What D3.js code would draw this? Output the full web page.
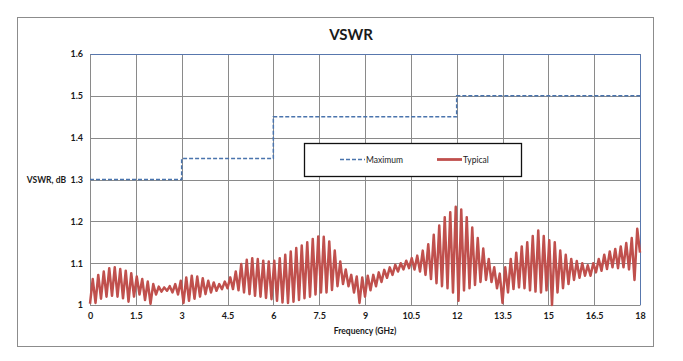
<!DOCTYPE html>
<html>
<head>
<meta charset="utf-8">
<script src="https://cdn.jsdelivr.net/npm/d3@7"></script>
<style>
body { margin: 0; background: #fff; }
text { font-family: Lato, "Open Sans", sans-serif; fill: #1a1a1a; }
</style>
</head>
<body>
<div class="main"></div>
<script>
// chart config
var W = 683, H = 361;
var margin = {top: 54, right: 43, bottom: 56, left: 90};
var width = 640 - margin.left;
var height = 305 - margin.top;

// data
var xTicks = [0, 1.5, 3, 4.5, 6, 7.5, 9, 10.5, 12, 13.5, 15, 16.5, 18];
var yTicks = [1, 1.1, 1.2, 1.3, 1.4, 1.5, 1.6];
// Maximum spec, step value starting at each break frequency
var maxFreq = [0, 3, 6, 12, 18];
var maxVswr = [1.3, 1.35, 1.45, 1.5, 1.5];
// Typical, sampled every 0.09 GHz: troughs at even samples, peaks at odd samples
var sampleStep = 0.09;
var typicalTroughs = [
	1.003, 1.005, 1.015, 1.02, 1.022, 1.02, 1.016, 1.008, 1.02, 1.025,
	1.012, 1.003, 1.025, 1.032, 1.034, 1.03, 1.025, 1.005, 1.01, 1.015,
	1.02, 1.026, 1.03, 1.034, 1.038, 1.04, 1.038, 1.035, 1.03, 1.026,
	1.022, 1.02, 1.017, 1.014, 1.01, 1.006, 1.005, 1.008, 1.012, 1.016,
	1.02, 1.025, 1.03, 1.03, 1.036, 1.045, 1.05, 1.045, 1.03, 1.005,
	1.02, 1.035, 1.045, 1.055, 1.065, 1.072, 1.08, 1.085, 1.088, 1.085,
	1.08, 1.072, 1.062, 1.052, 1.045, 1.04, 1.03, 1.01, 1.035, 1.04,
	1.048, 1.055, 1.06, 1.055, 1.04, 1.005, 1.03, 1.038, 1.042, 1.04,
	1.035, 1.032, 1.03, 1.035, 1.0, 1.03, 1.04, 1.05, 1.06, 1.065,
	1.07, 1.07, 1.078, 1.082, 1.086, 1.09, 1.088, 1.09, 1.085, 1.06, 1.125
];
var typicalPeaks = [
	1.062, 1.072, 1.08, 1.088, 1.09, 1.086, 1.082, 1.076, 1.068, 1.062,
	1.056, 1.05, 1.044, 1.042, 1.045, 1.05, 1.058, 1.066, 1.07, 1.068,
	1.064, 1.058, 1.054, 1.05, 1.056, 1.066, 1.08, 1.098, 1.108, 1.112,
	1.11, 1.106, 1.104, 1.106, 1.112, 1.12, 1.128, 1.136, 1.142, 1.15,
	1.158, 1.164, 1.163, 1.152, 1.13, 1.104, 1.085, 1.072, 1.068, 1.066,
	1.07, 1.072, 1.078, 1.084, 1.09, 1.096, 1.1, 1.106, 1.112, 1.118,
	1.13, 1.145, 1.168, 1.19, 1.21, 1.222, 1.235, 1.228, 1.21, 1.185,
	1.16, 1.135, 1.11, 1.09, 1.075, 1.09, 1.11, 1.125, 1.14, 1.15,
	1.165, 1.178, 1.165, 1.155, 1.15, 1.13, 1.12, 1.11, 1.105, 1.1,
	1.095, 1.1, 1.11, 1.12, 1.128, 1.134, 1.14, 1.148, 1.16, 1.182
];

var typical = [];
for (var i = 0; i < typicalTroughs.length; i++) {
	typical.push({f: 2 * i * sampleStep, v: typicalTroughs[i]});
	if (i < typicalPeaks.length) typical.push({f: (2 * i + 1) * sampleStep, v: typicalPeaks[i]});
}
var maximum = maxFreq.map(function(f, i) { return {f: f, v: maxVswr[i]}; });

var svg = d3.select(".main").append("svg")
	.attr("width", W)
	.attr("height", H);

// chart area border
svg.append("rect")
	.attr("x", 17.5).attr("y", 17.5)
	.attr("width", 636).attr("height", 329)
	.attr("fill", "#fff")
	.attr("stroke", "#8c8c8c")
	.attr("stroke-width", 1);

var g = svg.append("g")
	.attr("transform", "translate(" + margin.left + "," + margin.top + ")");

var xScale = d3.scaleLinear().domain([0, 18]).range([0, width]);
var yScale = d3.scaleLinear().domain([1, 1.6]).range([height, 0]);

// grid
g.append("g").attr("class", "grid")
	.selectAll("line.v").data(xTicks).enter().append("line")
	.attr("x1", function(d) { return Math.round(xScale(d)) + 0.5; })
	.attr("x2", function(d) { return Math.round(xScale(d)) + 0.5; })
	.attr("y1", 0).attr("y2", height)
	.attr("stroke", "#8a8a8a");
g.select(".grid")
	.selectAll("line.h").data(yTicks).enter().append("line")
	.attr("x1", 0).attr("x2", width)
	.attr("y1", function(d) { return Math.round(yScale(d)) + 0.5; })
	.attr("y2", function(d) { return Math.round(yScale(d)) + 0.5; })
	.attr("stroke", "#8a8a8a");

// top and right plot edge in blue
g.append("path")
	.attr("d", "M0," + (Math.round(yScale(1.6)) + 0.5) + "H" + (Math.round(width) + 0.5) + "V" + height)
	.attr("fill", "none")
	.attr("stroke", "#5877ad")
	.attr("stroke-width", 1);

// axes
var xAxis = d3.axisBottom(xScale).tickValues(xTicks).tickSize(0).tickPadding(8)
	.tickFormat(function(d) { return d; });
var yAxis = d3.axisLeft(yScale).tickValues(yTicks).tickSize(0).tickPadding(7)
	.tickFormat(function(d) { return d; });

g.append("g")
	.attr("class", "x-axis")
	.attr("transform", "translate(0," + height + ")")
	.call(xAxis)
	.call(function(s) { s.select(".domain").attr("stroke", "#8a8a8a"); });
g.append("g")
	.attr("class", "y-axis")
	.call(yAxis)
	.call(function(s) { s.select(".domain").attr("stroke", "#8a8a8a"); });
g.selectAll(".x-axis text, .y-axis text")
	.style("font-size", "9px")
	.style("font-weight", "bold")
	.attr("fill", "#2a2a2a");

// lines
var line = d3.line()
	.x(function(d) { return xScale(d.f); })
	.y(function(d) { return yScale(d.v); });

g.append("path")
	.datum(typical)
	.attr("d", line)
	.attr("fill", "none")
	.attr("stroke", "#c0504d")
	.attr("stroke-width", 2.5)
	.attr("stroke-linejoin", "round");

g.append("path")
	.datum(maximum)
	.attr("d", line.curve(d3.curveStepAfter))
	.attr("fill", "none")
	.attr("stroke", "#4a74ad")
	.attr("stroke-width", 1.5)
	.attr("stroke-dasharray", "4,2");

// title and labels
svg.append("text")
	.attr("x", 351).attr("y", 40)
	.attr("text-anchor", "middle")
	.style("font-size", "15px")
	.style("font-weight", "bold")
	.text("VSWR");
svg.append("text")
	.attr("x", 66).attr("y", yScale(1.3) + margin.top + 3.5)
	.attr("text-anchor", "end")
	.style("font-size", "8.5px")
	.style("font-weight", "bold")
	.text("VSWR, dB");
svg.append("text")
	.attr("x", margin.left + width / 2).attr("y", 334)
	.attr("text-anchor", "middle")
	.style("font-size", "8.5px")
	.style("font-weight", "bold")
	.text("Frequency (GHz)");

// legend
var legend = svg.append("g").attr("class", "legend");
legend.append("rect")
	.attr("x", 304.5).attr("y", 143.5)
	.attr("width", 217).attr("height", 33)
	.attr("fill", "#fff")
	.attr("stroke", "#111")
	.attr("stroke-width", 1.3);
legend.append("line")
	.attr("x1", 340).attr("x2", 365).attr("y1", 159.5).attr("y2", 159.5)
	.attr("stroke", "#4a74ad").attr("stroke-width", 1.5).attr("stroke-dasharray", "4,2");
legend.append("text")
	.attr("x", 366).attr("y", 162.5)
	.style("font-size", "8.5px")
	.text("Maximum");
legend.append("line")
	.attr("x1", 437).attr("x2", 462).attr("y1", 159.5).attr("y2", 159.5)
	.attr("stroke", "#c0504d").attr("stroke-width", 2.8);
legend.append("text")
	.attr("x", 463).attr("y", 162.5)
	.style("font-size", "8.5px")
	.text("Typical");
</script>
</body>
</html>
